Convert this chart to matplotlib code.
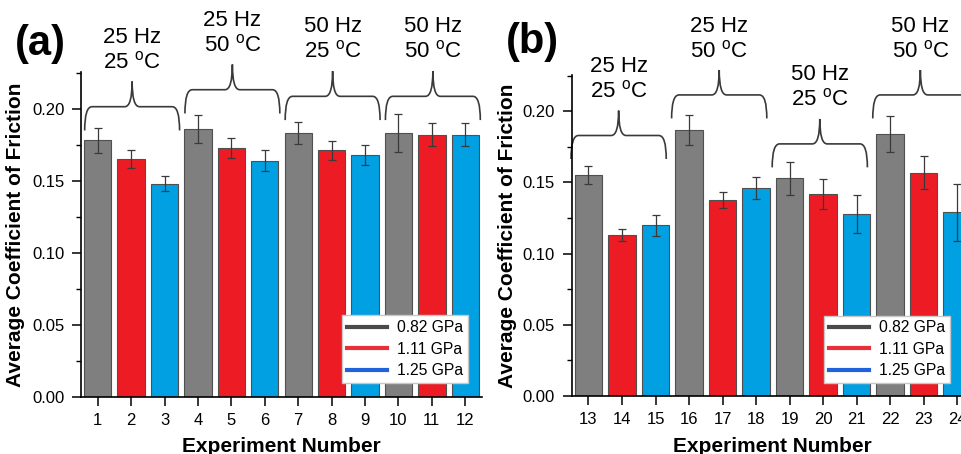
import matplotlib
matplotlib.use('Agg')
import matplotlib.pyplot as plt
import numpy as np
from matplotlib.path import Path
from matplotlib.patches import PathPatch
from matplotlib.lines import Line2D

plt.rcParams['font.family'] = 'Liberation Sans'
plt.rcParams['mathtext.fontset'] = 'custom'
plt.rcParams['mathtext.rm'] = 'Liberation Sans'

# data
exp_a = list(range(1, 13))
cof_a = [0.178, 0.165, 0.148, 0.186, 0.173, 0.164, 0.183, 0.171, 0.168, 0.183, 0.182, 0.182]
err_a = [0.0085, 0.0065, 0.0054, 0.0096, 0.0070, 0.0072, 0.0077, 0.0063, 0.0070, 0.0130, 0.0080, 0.0080]

exp_b = list(range(13, 25))
cof_b = [0.155, 0.113, 0.120, 0.187, 0.138, 0.146, 0.153, 0.142, 0.128, 0.184, 0.157, 0.129]
err_b = [0.0063, 0.0040, 0.0075, 0.0105, 0.0056, 0.0077, 0.0115, 0.0103, 0.0133, 0.0126, 0.0117, 0.0200]

pressures = ['0.82 GPa', '1.11 GPa', '1.25 GPa']
cond_a = ['25 Hz\n25 $^{\\rm o}$C', '25 Hz\n50 $^{\\rm o}$C', '50 Hz\n25 $^{\\rm o}$C', '50 Hz\n50 $^{\\rm o}$C']
cond_b = ['25 Hz\n25 $^{\\rm o}$C', '25 Hz\n50 $^{\\rm o}$C', '50 Hz\n25 $^{\\rm o}$C', '50 Hz\n50 $^{\\rm o}$C']

bar_cols = ['#7f7f7f', '#ed1c24', '#00a0e3']
leg_cols = ['#4a4a4a', '#e8303a', '#2062dc']

# brace layout (y of the horizontal line, x shift of brace centre)
brace_y_a = [0.2014, 0.2132, 0.2086, 0.2086]
brace_y_b = [0.1830, 0.2115, 0.1771, 0.2115]


def brace(ax, x0, x1, y, rise=0.0175, drop=0.0165, rx=0.22):
    xc = (x0 + x1) / 2
    verts = [(x0, y - drop), (x0, y), (x0 + rx, y),
             (xc - rx, y), (xc, y), (xc, y + rise),
             (xc, y), (xc + rx, y),
             (x1 - rx, y), (x1, y), (x1, y - drop)]
    codes = [Path.MOVETO, Path.CURVE3, Path.CURVE3,
             Path.LINETO, Path.CURVE3, Path.CURVE3,
             Path.CURVE3, Path.CURVE3,
             Path.LINETO, Path.CURVE3, Path.CURVE3]
    ax.add_patch(PathPatch(Path(verts, codes), fc='none', ec='#3a3a3a', lw=1.2, clip_on=False))
    return xc, y + rise


def panel(ax, exps, cofs, errs, conds, brace_ys, shift):
    exps = np.array(exps)
    cols = [bar_cols[i % 3] for i in range(len(exps))]
    ax.bar(exps, cofs, width=0.82, color=cols, edgecolor='#505050', linewidth=0.8, zorder=2)
    ax.errorbar(exps, cofs, yerr=errs, fmt='none', ecolor='#3a3a3a', elinewidth=0.9,
                capsize=3, capthick=0.9, zorder=3)
    for g in range(4):
        grp = exps[g * 3:(g + 1) * 3]
        c = grp.mean() + shift
        xc, ytip = brace(ax, c - 1.42, c + 1.42, brace_ys[g])
        ax.text(xc, ytip + 0.022, conds[g], ha='center', va='center', fontsize=16,
                linespacing=1.2, clip_on=False)

    ax.set_ylim(0, 0.2255)
    ax.set_xlim(exps[0] - 0.5, exps[-1] + 0.5)
    ax.set_xticks(exps)
    ax.set_yticks([0, 0.05, 0.10, 0.15, 0.20])
    ax.set_yticklabels(['0.00', '0.05', '0.10', '0.15', '0.20'])
    ax.set_yticks([0.025, 0.075, 0.125, 0.175, 0.225], minor=True)
    ax.tick_params(axis='both', which='major', labelsize=12, length=6.5, width=1.1, pad=5.5)
    ax.tick_params(axis='y', which='minor', length=3.5, width=1.0)
    ax.tick_params(axis='x', pad=5)
    for s in ['top', 'right']:
        ax.spines[s].set_visible(False)
    for s in ['left', 'bottom']:
        ax.spines[s].set_linewidth(1.2)

    ax.set_xlabel('Experiment Number', fontsize=15, fontweight='bold')
    ax.set_ylabel('Average Coefficient of Friction', fontsize=15, fontweight='bold')

    handles = [Line2D([0], [0], color=leg_cols[i], lw=3) for i in range(3)]
    return handles


def add_legend(ax, handles, anchor):
    ax.legend(handles, pressures, loc='lower right', bbox_to_anchor=anchor, fontsize=11.3,
              frameon=True, fancybox=False, edgecolor='#c8c8c8', framealpha=1,
              handlelength=2.55, handletextpad=0.65, labelspacing=0.42, borderpad=0.3,
              borderaxespad=0)


fig = plt.figure(figsize=(9.61, 4.54), dpi=100)
ax_a = fig.add_axes([81 / 961, 1 - 396.7 / 454, 401 / 961, 324.7 / 454])
ax_b = fig.add_axes([571.7 / 961, 1 - 396 / 454, 402.3 / 961, 321 / 454])

h = panel(ax_a, exp_a, cof_a, err_a, cond_a, brace_y_a, 0.03)
add_legend(ax_a, h, (0.965, 0.042))
ax_a.yaxis.set_label_coords(-56 / 401, 0.5)
ax_a.xaxis.set_label_coords(0.5, -49.5 / 324.7)
ax_a.xaxis.label.set_va('center')

h = panel(ax_b, exp_b, cof_b, err_b, cond_b, brace_y_b, -0.1)
add_legend(ax_b, h, (0.94, 0.04))
ax_b.yaxis.set_label_coords(-55 / 402.3, 0.5)
ax_b.xaxis.set_label_coords(0.5, -50 / 321)
ax_b.xaxis.label.set_va('center')

fig.text(40 / 961, 1 - 44 / 454, '(a)', fontsize=30, fontweight='bold', ha='center', va='center')
fig.text(532 / 961, 1 - 42 / 454, '(b)', fontsize=30, fontweight='bold', ha='center', va='center')

fig.savefig('out.png', dpi=100)
